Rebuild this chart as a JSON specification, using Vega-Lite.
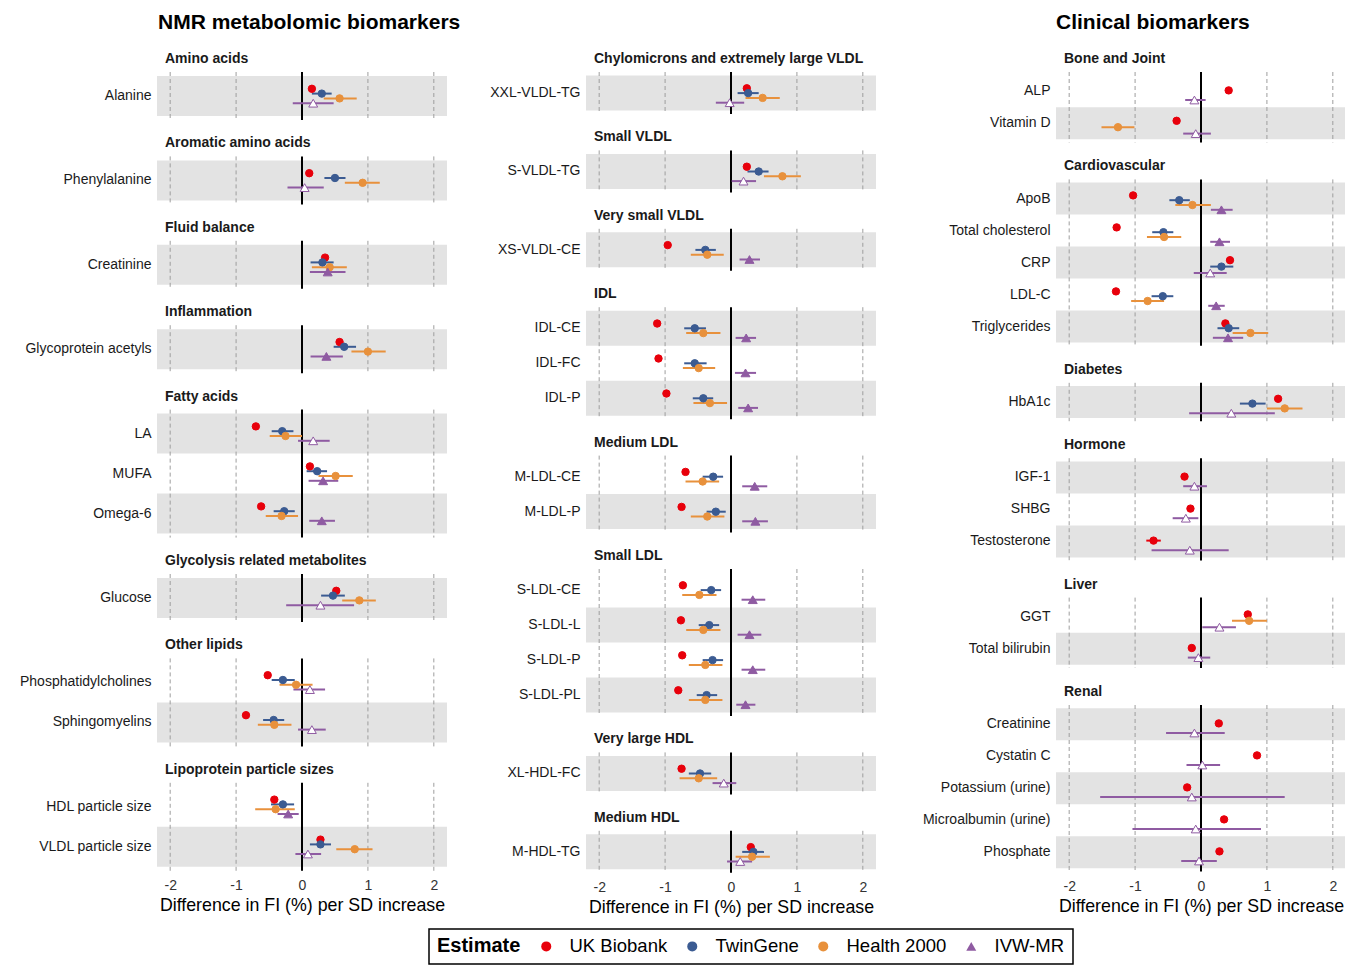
{
"$schema": "https://vega.github.io/schema/vega-lite/v6.json",
"background": "white",
"padding": {"left": 7, "top": 12, "right": 0, "bottom": 0},
"datasets": {
"grid": [{"v": -2}, {"v": -1}, {"v": 0}, {"v": 1}, {"v": 2}],
"fi": [
{"g":"Amino acids","m":"Alanine","e":"UK Biobank","b":0.15,"lo":0.12,"hi":0.18,"s":1},
{"g":"Amino acids","m":"Alanine","e":"TwinGene","b":0.30,"lo":0.15,"hi":0.45,"s":1},
{"g":"Amino acids","m":"Alanine","e":"Health 2000","b":0.57,"lo":0.33,"hi":0.83,"s":1},
{"g":"Amino acids","m":"Alanine","e":"IVW-MR","b":0.17,"lo":-0.14,"hi":0.48,"s":0},
{"g":"Aromatic amino acids","m":"Phenylalanine","e":"UK Biobank","b":0.11,"lo":0.08,"hi":0.14,"s":1},
{"g":"Aromatic amino acids","m":"Phenylalanine","e":"TwinGene","b":0.50,"lo":0.34,"hi":0.66,"s":1},
{"g":"Aromatic amino acids","m":"Phenylalanine","e":"Health 2000","b":0.92,"lo":0.65,"hi":1.18,"s":1},
{"g":"Aromatic amino acids","m":"Phenylalanine","e":"IVW-MR","b":0.04,"lo":-0.22,"hi":0.33,"s":0},
{"g":"Fluid balance","m":"Creatinine","e":"UK Biobank","b":0.35,"lo":0.32,"hi":0.38,"s":1},
{"g":"Fluid balance","m":"Creatinine","e":"TwinGene","b":0.31,"lo":0.13,"hi":0.48,"s":1},
{"g":"Fluid balance","m":"Creatinine","e":"Health 2000","b":0.42,"lo":0.15,"hi":0.68,"s":1},
{"g":"Fluid balance","m":"Creatinine","e":"IVW-MR","b":0.39,"lo":0.12,"hi":0.66,"s":1},
{"g":"Inflammation","m":"Glycoprotein acetyls","e":"UK Biobank","b":0.57,"lo":0.54,"hi":0.60,"s":1},
{"g":"Inflammation","m":"Glycoprotein acetyls","e":"TwinGene","b":0.64,"lo":0.48,"hi":0.82,"s":1},
{"g":"Inflammation","m":"Glycoprotein acetyls","e":"Health 2000","b":1.00,"lo":0.75,"hi":1.27,"s":1},
{"g":"Inflammation","m":"Glycoprotein acetyls","e":"IVW-MR","b":0.37,"lo":0.13,"hi":0.62,"s":1},
{"g":"Fatty acids","m":"LA","e":"UK Biobank","b":-0.70,"lo":-0.73,"hi":-0.67,"s":1},
{"g":"Fatty acids","m":"LA","e":"TwinGene","b":-0.30,"lo":-0.46,"hi":-0.13,"s":1},
{"g":"Fatty acids","m":"LA","e":"Health 2000","b":-0.25,"lo":-0.49,"hi":0.0,"s":1},
{"g":"Fatty acids","m":"LA","e":"IVW-MR","b":0.17,"lo":-0.06,"hi":0.42,"s":0},
{"g":"Fatty acids","m":"MUFA","e":"UK Biobank","b":0.12,"lo":0.09,"hi":0.15,"s":1},
{"g":"Fatty acids","m":"MUFA","e":"TwinGene","b":0.23,"lo":0.07,"hi":0.38,"s":1},
{"g":"Fatty acids","m":"MUFA","e":"Health 2000","b":0.51,"lo":0.25,"hi":0.77,"s":1},
{"g":"Fatty acids","m":"MUFA","e":"IVW-MR","b":0.32,"lo":0.10,"hi":0.55,"s":1},
{"g":"Fatty acids","m":"Omega-6","e":"UK Biobank","b":-0.62,"lo":-0.65,"hi":-0.59,"s":1},
{"g":"Fatty acids","m":"Omega-6","e":"TwinGene","b":-0.27,"lo":-0.43,"hi":-0.11,"s":1},
{"g":"Fatty acids","m":"Omega-6","e":"Health 2000","b":-0.31,"lo":-0.55,"hi":-0.06,"s":1},
{"g":"Fatty acids","m":"Omega-6","e":"IVW-MR","b":0.30,"lo":0.11,"hi":0.50,"s":1},
{"g":"Glycolysis related metabolites","m":"Glucose","e":"UK Biobank","b":0.52,"lo":0.49,"hi":0.55,"s":1},
{"g":"Glycolysis related metabolites","m":"Glucose","e":"TwinGene","b":0.47,"lo":0.29,"hi":0.65,"s":1},
{"g":"Glycolysis related metabolites","m":"Glucose","e":"Health 2000","b":0.87,"lo":0.61,"hi":1.12,"s":1},
{"g":"Glycolysis related metabolites","m":"Glucose","e":"IVW-MR","b":0.28,"lo":-0.24,"hi":0.79,"s":0},
{"g":"Other lipids","m":"Phosphatidylcholines","e":"UK Biobank","b":-0.52,"lo":-0.55,"hi":-0.49,"s":1},
{"g":"Other lipids","m":"Phosphatidylcholines","e":"TwinGene","b":-0.29,"lo":-0.46,"hi":-0.11,"s":1},
{"g":"Other lipids","m":"Phosphatidylcholines","e":"Health 2000","b":-0.09,"lo":-0.34,"hi":0.16,"s":1},
{"g":"Other lipids","m":"Phosphatidylcholines","e":"IVW-MR","b":0.12,"lo":-0.13,"hi":0.35,"s":0},
{"g":"Other lipids","m":"Sphingomyelins","e":"UK Biobank","b":-0.85,"lo":-0.88,"hi":-0.82,"s":1},
{"g":"Other lipids","m":"Sphingomyelins","e":"TwinGene","b":-0.43,"lo":-0.59,"hi":-0.27,"s":1},
{"g":"Other lipids","m":"Sphingomyelins","e":"Health 2000","b":-0.42,"lo":-0.67,"hi":-0.16,"s":1},
{"g":"Other lipids","m":"Sphingomyelins","e":"IVW-MR","b":0.15,"lo":-0.06,"hi":0.36,"s":0},
{"g":"Lipoprotein particle sizes","m":"HDL particle size","e":"UK Biobank","b":-0.42,"lo":-0.45,"hi":-0.39,"s":1},
{"g":"Lipoprotein particle sizes","m":"HDL particle size","e":"TwinGene","b":-0.29,"lo":-0.47,"hi":-0.12,"s":1},
{"g":"Lipoprotein particle sizes","m":"HDL particle size","e":"Health 2000","b":-0.40,"lo":-0.71,"hi":-0.11,"s":1},
{"g":"Lipoprotein particle sizes","m":"HDL particle size","e":"IVW-MR","b":-0.21,"lo":-0.37,"hi":-0.05,"s":1},
{"g":"Lipoprotein particle sizes","m":"VLDL particle size","e":"UK Biobank","b":0.28,"lo":0.25,"hi":0.31,"s":1},
{"g":"Lipoprotein particle sizes","m":"VLDL particle size","e":"TwinGene","b":0.28,"lo":0.12,"hi":0.44,"s":1},
{"g":"Lipoprotein particle sizes","m":"VLDL particle size","e":"Health 2000","b":0.80,"lo":0.52,"hi":1.07,"s":1},
{"g":"Lipoprotein particle sizes","m":"VLDL particle size","e":"IVW-MR","b":0.09,"lo":-0.10,"hi":0.29,"s":0},
{"g":"Chylomicrons and extremely large VLDL","m":"XXL-VLDL-TG","e":"UK Biobank","b":0.24,"lo":0.21,"hi":0.27,"s":1},
{"g":"Chylomicrons and extremely large VLDL","m":"XXL-VLDL-TG","e":"TwinGene","b":0.26,"lo":0.10,"hi":0.42,"s":1},
{"g":"Chylomicrons and extremely large VLDL","m":"XXL-VLDL-TG","e":"Health 2000","b":0.48,"lo":0.22,"hi":0.74,"s":1},
{"g":"Chylomicrons and extremely large VLDL","m":"XXL-VLDL-TG","e":"IVW-MR","b":-0.02,"lo":-0.23,"hi":0.20,"s":0},
{"g":"Small VLDL","m":"S-VLDL-TG","e":"UK Biobank","b":0.24,"lo":0.21,"hi":0.27,"s":1},
{"g":"Small VLDL","m":"S-VLDL-TG","e":"TwinGene","b":0.42,"lo":0.25,"hi":0.57,"s":1},
{"g":"Small VLDL","m":"S-VLDL-TG","e":"Health 2000","b":0.78,"lo":0.50,"hi":1.06,"s":1},
{"g":"Small VLDL","m":"S-VLDL-TG","e":"IVW-MR","b":0.19,"lo":0.01,"hi":0.38,"s":0},
{"g":"Very small VLDL","m":"XS-VLDL-CE","e":"UK Biobank","b":-0.96,"lo":-0.99,"hi":-0.93,"s":1},
{"g":"Very small VLDL","m":"XS-VLDL-CE","e":"TwinGene","b":-0.39,"lo":-0.54,"hi":-0.23,"s":1},
{"g":"Very small VLDL","m":"XS-VLDL-CE","e":"Health 2000","b":-0.36,"lo":-0.61,"hi":-0.11,"s":1},
{"g":"Very small VLDL","m":"XS-VLDL-CE","e":"IVW-MR","b":0.28,"lo":0.13,"hi":0.44,"s":1},
{"g":"IDL","m":"IDL-CE","e":"UK Biobank","b":-1.12,"lo":-1.15,"hi":-1.09,"s":1},
{"g":"IDL","m":"IDL-CE","e":"TwinGene","b":-0.55,"lo":-0.71,"hi":-0.38,"s":1},
{"g":"IDL","m":"IDL-CE","e":"Health 2000","b":-0.42,"lo":-0.68,"hi":-0.16,"s":1},
{"g":"IDL","m":"IDL-CE","e":"IVW-MR","b":0.23,"lo":0.07,"hi":0.38,"s":1},
{"g":"IDL","m":"IDL-FC","e":"UK Biobank","b":-1.10,"lo":-1.13,"hi":-1.07,"s":1},
{"g":"IDL","m":"IDL-FC","e":"TwinGene","b":-0.55,"lo":-0.71,"hi":-0.37,"s":1},
{"g":"IDL","m":"IDL-FC","e":"Health 2000","b":-0.49,"lo":-0.73,"hi":-0.24,"s":1},
{"g":"IDL","m":"IDL-FC","e":"IVW-MR","b":0.22,"lo":0.06,"hi":0.38,"s":1},
{"g":"IDL","m":"IDL-P","e":"UK Biobank","b":-0.98,"lo":-1.01,"hi":-0.95,"s":1},
{"g":"IDL","m":"IDL-P","e":"TwinGene","b":-0.42,"lo":-0.58,"hi":-0.27,"s":1},
{"g":"IDL","m":"IDL-P","e":"Health 2000","b":-0.32,"lo":-0.57,"hi":-0.06,"s":1},
{"g":"IDL","m":"IDL-P","e":"IVW-MR","b":0.26,"lo":0.11,"hi":0.41,"s":1},
{"g":"Medium LDL","m":"M-LDL-CE","e":"UK Biobank","b":-0.69,"lo":-0.72,"hi":-0.66,"s":1},
{"g":"Medium LDL","m":"M-LDL-CE","e":"TwinGene","b":-0.27,"lo":-0.43,"hi":-0.12,"s":1},
{"g":"Medium LDL","m":"M-LDL-CE","e":"Health 2000","b":-0.43,"lo":-0.69,"hi":-0.18,"s":1},
{"g":"Medium LDL","m":"M-LDL-CE","e":"IVW-MR","b":0.36,"lo":0.17,"hi":0.55,"s":1},
{"g":"Medium LDL","m":"M-LDL-P","e":"UK Biobank","b":-0.75,"lo":-0.78,"hi":-0.72,"s":1},
{"g":"Medium LDL","m":"M-LDL-P","e":"TwinGene","b":-0.23,"lo":-0.37,"hi":-0.08,"s":1},
{"g":"Medium LDL","m":"M-LDL-P","e":"Health 2000","b":-0.36,"lo":-0.61,"hi":-0.10,"s":1},
{"g":"Medium LDL","m":"M-LDL-P","e":"IVW-MR","b":0.37,"lo":0.17,"hi":0.56,"s":1},
{"g":"Small LDL","m":"S-LDL-CE","e":"UK Biobank","b":-0.73,"lo":-0.76,"hi":-0.70,"s":1},
{"g":"Small LDL","m":"S-LDL-CE","e":"TwinGene","b":-0.30,"lo":-0.46,"hi":-0.15,"s":1},
{"g":"Small LDL","m":"S-LDL-CE","e":"Health 2000","b":-0.48,"lo":-0.74,"hi":-0.22,"s":1},
{"g":"Small LDL","m":"S-LDL-CE","e":"IVW-MR","b":0.33,"lo":0.16,"hi":0.52,"s":1},
{"g":"Small LDL","m":"S-LDL-L","e":"UK Biobank","b":-0.76,"lo":-0.79,"hi":-0.73,"s":1},
{"g":"Small LDL","m":"S-LDL-L","e":"TwinGene","b":-0.33,"lo":-0.49,"hi":-0.18,"s":1},
{"g":"Small LDL","m":"S-LDL-L","e":"Health 2000","b":-0.42,"lo":-0.68,"hi":-0.16,"s":1},
{"g":"Small LDL","m":"S-LDL-L","e":"IVW-MR","b":0.28,"lo":0.10,"hi":0.46,"s":1},
{"g":"Small LDL","m":"S-LDL-P","e":"UK Biobank","b":-0.74,"lo":-0.77,"hi":-0.71,"s":1},
{"g":"Small LDL","m":"S-LDL-P","e":"TwinGene","b":-0.28,"lo":-0.43,"hi":-0.12,"s":1},
{"g":"Small LDL","m":"S-LDL-P","e":"Health 2000","b":-0.39,"lo":-0.64,"hi":-0.13,"s":1},
{"g":"Small LDL","m":"S-LDL-P","e":"IVW-MR","b":0.33,"lo":0.16,"hi":0.52,"s":1},
{"g":"Small LDL","m":"S-LDL-PL","e":"UK Biobank","b":-0.80,"lo":-0.83,"hi":-0.77,"s":1},
{"g":"Small LDL","m":"S-LDL-PL","e":"TwinGene","b":-0.37,"lo":-0.52,"hi":-0.21,"s":1},
{"g":"Small LDL","m":"S-LDL-PL","e":"Health 2000","b":-0.39,"lo":-0.64,"hi":-0.13,"s":1},
{"g":"Small LDL","m":"S-LDL-PL","e":"IVW-MR","b":0.22,"lo":0.08,"hi":0.37,"s":1},
{"g":"Very large HDL","m":"XL-HDL-FC","e":"UK Biobank","b":-0.75,"lo":-0.78,"hi":-0.72,"s":1},
{"g":"Very large HDL","m":"XL-HDL-FC","e":"TwinGene","b":-0.47,"lo":-0.64,"hi":-0.30,"s":1},
{"g":"Very large HDL","m":"XL-HDL-FC","e":"Health 2000","b":-0.49,"lo":-0.78,"hi":-0.21,"s":1},
{"g":"Very large HDL","m":"XL-HDL-FC","e":"IVW-MR","b":-0.11,"lo":-0.28,"hi":0.08,"s":0},
{"g":"Medium HDL","m":"M-HDL-TG","e":"UK Biobank","b":0.30,"lo":0.27,"hi":0.33,"s":1},
{"g":"Medium HDL","m":"M-HDL-TG","e":"TwinGene","b":0.34,"lo":0.17,"hi":0.50,"s":1},
{"g":"Medium HDL","m":"M-HDL-TG","e":"Health 2000","b":0.32,"lo":0.07,"hi":0.59,"s":1},
{"g":"Medium HDL","m":"M-HDL-TG","e":"IVW-MR","b":0.14,"lo":-0.06,"hi":0.32,"s":0},
{"g":"Bone and Joint","m":"ALP","e":"UK Biobank","b":0.42,"lo":0.39,"hi":0.45,"s":1},
{"g":"Bone and Joint","m":"ALP","e":"IVW-MR","b":-0.10,"lo":-0.24,"hi":0.07,"s":0},
{"g":"Bone and Joint","m":"Vitamin D","e":"UK Biobank","b":-0.37,"lo":-0.40,"hi":-0.34,"s":1},
{"g":"Bone and Joint","m":"Vitamin D","e":"Health 2000","b":-1.26,"lo":-1.51,"hi":-1.01,"s":1},
{"g":"Bone and Joint","m":"Vitamin D","e":"IVW-MR","b":-0.08,"lo":-0.27,"hi":0.15,"s":0},
{"g":"Cardiovascular","m":"ApoB","e":"UK Biobank","b":-1.03,"lo":-1.07,"hi":-0.99,"s":1},
{"g":"Cardiovascular","m":"ApoB","e":"TwinGene","b":-0.33,"lo":-0.48,"hi":-0.17,"s":1},
{"g":"Cardiovascular","m":"ApoB","e":"Health 2000","b":-0.13,"lo":-0.39,"hi":0.15,"s":1},
{"g":"Cardiovascular","m":"ApoB","e":"IVW-MR","b":0.31,"lo":0.15,"hi":0.48,"s":1},
{"g":"Cardiovascular","m":"Total cholesterol","e":"UK Biobank","b":-1.28,"lo":-1.31,"hi":-1.25,"s":1},
{"g":"Cardiovascular","m":"Total cholesterol","e":"TwinGene","b":-0.57,"lo":-0.74,"hi":-0.42,"s":1},
{"g":"Cardiovascular","m":"Total cholesterol","e":"Health 2000","b":-0.56,"lo":-0.82,"hi":-0.30,"s":1},
{"g":"Cardiovascular","m":"Total cholesterol","e":"IVW-MR","b":0.28,"lo":0.14,"hi":0.44,"s":1},
{"g":"Cardiovascular","m":"CRP","e":"UK Biobank","b":0.44,"lo":0.40,"hi":0.48,"s":1},
{"g":"Cardiovascular","m":"CRP","e":"TwinGene","b":0.31,"lo":0.14,"hi":0.49,"s":1},
{"g":"Cardiovascular","m":"CRP","e":"IVW-MR","b":0.14,"lo":-0.11,"hi":0.39,"s":0},
{"g":"Cardiovascular","m":"LDL-C","e":"UK Biobank","b":-1.29,"lo":-1.32,"hi":-1.26,"s":1},
{"g":"Cardiovascular","m":"LDL-C","e":"TwinGene","b":-0.58,"lo":-0.75,"hi":-0.42,"s":1},
{"g":"Cardiovascular","m":"LDL-C","e":"Health 2000","b":-0.81,"lo":-1.06,"hi":-0.56,"s":1},
{"g":"Cardiovascular","m":"LDL-C","e":"IVW-MR","b":0.23,"lo":0.11,"hi":0.36,"s":1},
{"g":"Cardiovascular","m":"Triglycerides","e":"UK Biobank","b":0.37,"lo":0.34,"hi":0.40,"s":1},
{"g":"Cardiovascular","m":"Triglycerides","e":"TwinGene","b":0.42,"lo":0.25,"hi":0.58,"s":1},
{"g":"Cardiovascular","m":"Triglycerides","e":"Health 2000","b":0.75,"lo":0.48,"hi":1.02,"s":1},
{"g":"Cardiovascular","m":"Triglycerides","e":"IVW-MR","b":0.41,"lo":0.18,"hi":0.64,"s":1},
{"g":"Diabetes","m":"HbA1c","e":"UK Biobank","b":1.17,"lo":1.14,"hi":1.20,"s":1},
{"g":"Diabetes","m":"HbA1c","e":"TwinGene","b":0.78,"lo":0.59,"hi":0.98,"s":1},
{"g":"Diabetes","m":"HbA1c","e":"Health 2000","b":1.27,"lo":1.00,"hi":1.54,"s":1},
{"g":"Diabetes","m":"HbA1c","e":"IVW-MR","b":0.46,"lo":-0.18,"hi":1.12,"s":0},
{"g":"Hormone","m":"IGF-1","e":"UK Biobank","b":-0.25,"lo":-0.28,"hi":-0.22,"s":1},
{"g":"Hormone","m":"IGF-1","e":"IVW-MR","b":-0.10,"lo":-0.27,"hi":0.09,"s":0},
{"g":"Hormone","m":"SHBG","e":"UK Biobank","b":-0.16,"lo":-0.20,"hi":-0.12,"s":1},
{"g":"Hormone","m":"SHBG","e":"IVW-MR","b":-0.23,"lo":-0.43,"hi":-0.04,"s":0},
{"g":"Hormone","m":"Testosterone","e":"UK Biobank","b":-0.72,"lo":-0.83,"hi":-0.61,"s":1},
{"g":"Hormone","m":"Testosterone","e":"IVW-MR","b":-0.17,"lo":-0.75,"hi":0.42,"s":0},
{"g":"Liver","m":"GGT","e":"UK Biobank","b":0.71,"lo":0.68,"hi":0.74,"s":1},
{"g":"Liver","m":"GGT","e":"Health 2000","b":0.73,"lo":0.47,"hi":1.00,"s":1},
{"g":"Liver","m":"GGT","e":"IVW-MR","b":0.28,"lo":0.02,"hi":0.53,"s":0},
{"g":"Liver","m":"Total bilirubin","e":"UK Biobank","b":-0.14,"lo":-0.17,"hi":-0.11,"s":1},
{"g":"Liver","m":"Total bilirubin","e":"IVW-MR","b":-0.04,"lo":-0.20,"hi":0.14,"s":0},
{"g":"Renal","m":"Creatinine","e":"UK Biobank","b":0.27,"lo":0.23,"hi":0.31,"s":1},
{"g":"Renal","m":"Creatinine","e":"IVW-MR","b":-0.10,"lo":-0.53,"hi":0.36,"s":0},
{"g":"Renal","m":"Cystatin C","e":"UK Biobank","b":0.85,"lo":0.82,"hi":0.88,"s":1},
{"g":"Renal","m":"Cystatin C","e":"IVW-MR","b":0.02,"lo":-0.22,"hi":0.29,"s":0},
{"g":"Renal","m":"Potassium (urine)","e":"UK Biobank","b":-0.21,"lo":-0.24,"hi":-0.18,"s":1},
{"g":"Renal","m":"Potassium (urine)","e":"IVW-MR","b":-0.14,"lo":-1.53,"hi":1.27,"s":0},
{"g":"Renal","m":"Microalbumin (urine)","e":"UK Biobank","b":0.35,"lo":0.32,"hi":0.38,"s":1},
{"g":"Renal","m":"Microalbumin (urine)","e":"IVW-MR","b":-0.08,"lo":-1.04,"hi":0.91,"s":0},
{"g":"Renal","m":"Phosphate","e":"UK Biobank","b":0.28,"lo":0.25,"hi":0.31,"s":1},
{"g":"Renal","m":"Phosphate","e":"IVW-MR","b":-0.03,"lo":-0.30,"hi":0.24,"s":0}
]
},
"data": {"name": "fi"},
"transform": [
{"calculate": "indexof(['UK Biobank','TwinGene','Health 2000','IVW-MR'], datum.e)", "as": "eo"},
{"window": [{"op": "row_number", "as": "idx"}], "groupby": ["g", "m"], "sort": [{"field": "eo", "order": "ascending"}]},
{"joinaggregate": [{"op": "count", "as": "n"}], "groupby": ["g", "m"]},
{"calculate": "(datum.idx - (datum.n + 1) / 2) * 0.48 / datum.n", "as": "off"}
],
"spacing": 12,
"hconcat": [
{
"title": {"text": "NMR metabolomic biomarkers", "fontSize": 21, "color": "black", "frame": "bounds", "dx": 151, "offset": 19},
"spacing": 9,
"hconcat": [
{"spacing": 15.4, "vconcat": [
{"title": "Amino acids", "width": 290, "height": 48, "transform": [{"filter": {"field": "g", "equal": "Amino acids"}}],
"encoding": {"y": {"field": "m", "type": "nominal", "title": null, "scale": {"domain": ["Alanine"], "paddingInner": 0, "paddingOuter": 0.1}, "axis": {"minExtent": 150}}},
"layer": [
{"transform": [{"filter": {"field": "e", "equal": "UK Biobank"}}, {"filter": {"field": "m", "oneOf": ["Alanine"]}}], "mark": {"type": "rule", "color": "#e3e3e3", "strokeWidth": 40, "strokeCap": "butt"}, "encoding": {"x": {"datum": -2.2, "axis": null}, "x2": {"datum": 2.2}}},
{"data": {"name": "grid"}, "mark": {"type": "rule"}, "encoding": {"x": {"field": "v", "type": "quantitative", "axis": null}, "y": {"value": 0}, "y2": {"value": "height"}, "color": {"condition": {"test": "datum.v == 0", "value": "black"}, "value": "#9e9e9e"}, "strokeWidth": {"condition": {"test": "datum.v == 0", "value": 2}, "value": 1}, "strokeDash": {"condition": {"test": "datum.v == 0", "value": [1, 0]}, "value": [4, 3]}}},
{"mark": {"type": "rule", "strokeWidth": 2}, "encoding": {"x": {"field": "lo", "type": "quantitative", "axis": null}, "x2": {"field": "hi"}, "yOffset": {"field": "off", "type": "quantitative", "scale": {"domain": [-0.5, 0.5], "nice": false, "zero": false}}, "stroke": {"field": "e", "type": "nominal", "scale": {"domain": ["IVW-MR", "UK Biobank", "TwinGene", "Health 2000"], "range": ["#8f5ba2", "#e8000b", "#3b5b92", "#e8913c"]}, "legend": null}}},
{"mark": {"type": "point", "filled": true, "opacity": 1, "strokeWidth": 1}, "encoding": {"x": {"field": "b", "type": "quantitative", "scale": {"domain": [-2.2, 2.2], "nice": false, "zero": false}, "axis": null}, "yOffset": {"field": "off", "type": "quantitative", "scale": {"domain": [-0.5, 0.5], "nice": false, "zero": false}}, "color": {"field": "e", "type": "nominal", "title": "Estimate", "scale": {"domain": ["UK Biobank", "TwinGene", "Health 2000", "IVW-MR"], "range": ["#e8000b", "#3b5b92", "#e8913c", "#8f5ba2"]}, "condition": {"test": "datum.s == 0", "value": "white"}}, "stroke": {"field": "e", "type": "nominal", "scale": {"domain": ["IVW-MR", "UK Biobank", "TwinGene", "Health 2000"], "range": ["#8f5ba2", "#e8000b", "#3b5b92", "#e8913c"]}, "legend": null}, "shape": {"field": "e", "type": "nominal", "title": "Estimate", "scale": {"domain": ["UK Biobank", "TwinGene", "Health 2000", "IVW-MR"], "range": ["circle", "circle", "circle", "triangle-up"]}}, "size": {"condition": {"test": "datum.e == 'IVW-MR'", "value": 80}, "value": 55}}}
]},
{"title": "Aromatic amino acids", "width": 290, "height": 48, "transform": [{"filter": {"field": "g", "equal": "Aromatic amino acids"}}],
"encoding": {"y": {"field": "m", "type": "nominal", "title": null, "scale": {"domain": ["Phenylalanine"], "paddingInner": 0, "paddingOuter": 0.1}, "axis": {"minExtent": 150}}},
"layer": [
{"transform": [{"filter": {"field": "e", "equal": "UK Biobank"}}, {"filter": {"field": "m", "oneOf": ["Phenylalanine"]}}], "mark": {"type": "rule", "color": "#e3e3e3", "strokeWidth": 40, "strokeCap": "butt"}, "encoding": {"x": {"datum": -2.2, "axis": null}, "x2": {"datum": 2.2}}},
{"data": {"name": "grid"}, "mark": {"type": "rule"}, "encoding": {"x": {"field": "v", "type": "quantitative", "axis": null}, "y": {"value": 0}, "y2": {"value": "height"}, "color": {"condition": {"test": "datum.v == 0", "value": "black"}, "value": "#9e9e9e"}, "strokeWidth": {"condition": {"test": "datum.v == 0", "value": 2}, "value": 1}, "strokeDash": {"condition": {"test": "datum.v == 0", "value": [1, 0]}, "value": [4, 3]}}},
{"mark": {"type": "rule", "strokeWidth": 2}, "encoding": {"x": {"field": "lo", "type": "quantitative", "axis": null}, "x2": {"field": "hi"}, "yOffset": {"field": "off", "type": "quantitative", "scale": {"domain": [-0.5, 0.5], "nice": false, "zero": false}}, "stroke": {"field": "e", "type": "nominal", "scale": {"domain": ["IVW-MR", "UK Biobank", "TwinGene", "Health 2000"], "range": ["#8f5ba2", "#e8000b", "#3b5b92", "#e8913c"]}, "legend": null}}},
{"mark": {"type": "point", "filled": true, "opacity": 1, "strokeWidth": 1}, "encoding": {"x": {"field": "b", "type": "quantitative", "scale": {"domain": [-2.2, 2.2], "nice": false, "zero": false}, "axis": null}, "yOffset": {"field": "off", "type": "quantitative", "scale": {"domain": [-0.5, 0.5], "nice": false, "zero": false}}, "color": {"field": "e", "type": "nominal", "title": "Estimate", "scale": {"domain": ["UK Biobank", "TwinGene", "Health 2000", "IVW-MR"], "range": ["#e8000b", "#3b5b92", "#e8913c", "#8f5ba2"]}, "condition": {"test": "datum.s == 0", "value": "white"}}, "stroke": {"field": "e", "type": "nominal", "scale": {"domain": ["IVW-MR", "UK Biobank", "TwinGene", "Health 2000"], "range": ["#8f5ba2", "#e8000b", "#3b5b92", "#e8913c"]}, "legend": null}, "shape": {"field": "e", "type": "nominal", "title": "Estimate", "scale": {"domain": ["UK Biobank", "TwinGene", "Health 2000", "IVW-MR"], "range": ["circle", "circle", "circle", "triangle-up"]}}, "size": {"condition": {"test": "datum.e == 'IVW-MR'", "value": 80}, "value": 55}}}
]},
{"title": "Fluid balance", "width": 290, "height": 48, "transform": [{"filter": {"field": "g", "equal": "Fluid balance"}}],
"encoding": {"y": {"field": "m", "type": "nominal", "title": null, "scale": {"domain": ["Creatinine"], "paddingInner": 0, "paddingOuter": 0.1}, "axis": {"minExtent": 150}}},
"layer": [
{"transform": [{"filter": {"field": "e", "equal": "UK Biobank"}}, {"filter": {"field": "m", "oneOf": ["Creatinine"]}}], "mark": {"type": "rule", "color": "#e3e3e3", "strokeWidth": 40, "strokeCap": "butt"}, "encoding": {"x": {"datum": -2.2, "axis": null}, "x2": {"datum": 2.2}}},
{"data": {"name": "grid"}, "mark": {"type": "rule"}, "encoding": {"x": {"field": "v", "type": "quantitative", "axis": null}, "y": {"value": 0}, "y2": {"value": "height"}, "color": {"condition": {"test": "datum.v == 0", "value": "black"}, "value": "#9e9e9e"}, "strokeWidth": {"condition": {"test": "datum.v == 0", "value": 2}, "value": 1}, "strokeDash": {"condition": {"test": "datum.v == 0", "value": [1, 0]}, "value": [4, 3]}}},
{"mark": {"type": "rule", "strokeWidth": 2}, "encoding": {"x": {"field": "lo", "type": "quantitative", "axis": null}, "x2": {"field": "hi"}, "yOffset": {"field": "off", "type": "quantitative", "scale": {"domain": [-0.5, 0.5], "nice": false, "zero": false}}, "stroke": {"field": "e", "type": "nominal", "scale": {"domain": ["IVW-MR", "UK Biobank", "TwinGene", "Health 2000"], "range": ["#8f5ba2", "#e8000b", "#3b5b92", "#e8913c"]}, "legend": null}}},
{"mark": {"type": "point", "filled": true, "opacity": 1, "strokeWidth": 1}, "encoding": {"x": {"field": "b", "type": "quantitative", "scale": {"domain": [-2.2, 2.2], "nice": false, "zero": false}, "axis": null}, "yOffset": {"field": "off", "type": "quantitative", "scale": {"domain": [-0.5, 0.5], "nice": false, "zero": false}}, "color": {"field": "e", "type": "nominal", "title": "Estimate", "scale": {"domain": ["UK Biobank", "TwinGene", "Health 2000", "IVW-MR"], "range": ["#e8000b", "#3b5b92", "#e8913c", "#8f5ba2"]}, "condition": {"test": "datum.s == 0", "value": "white"}}, "stroke": {"field": "e", "type": "nominal", "scale": {"domain": ["IVW-MR", "UK Biobank", "TwinGene", "Health 2000"], "range": ["#8f5ba2", "#e8000b", "#3b5b92", "#e8913c"]}, "legend": null}, "shape": {"field": "e", "type": "nominal", "title": "Estimate", "scale": {"domain": ["UK Biobank", "TwinGene", "Health 2000", "IVW-MR"], "range": ["circle", "circle", "circle", "triangle-up"]}}, "size": {"condition": {"test": "datum.e == 'IVW-MR'", "value": 80}, "value": 55}}}
]},
{"title": "Inflammation", "width": 290, "height": 48, "transform": [{"filter": {"field": "g", "equal": "Inflammation"}}],
"encoding": {"y": {"field": "m", "type": "nominal", "title": null, "scale": {"domain": ["Glycoprotein acetyls"], "paddingInner": 0, "paddingOuter": 0.1}, "axis": {"minExtent": 150}}},
"layer": [
{"transform": [{"filter": {"field": "e", "equal": "UK Biobank"}}, {"filter": {"field": "m", "oneOf": ["Glycoprotein acetyls"]}}], "mark": {"type": "rule", "color": "#e3e3e3", "strokeWidth": 40, "strokeCap": "butt"}, "encoding": {"x": {"datum": -2.2, "axis": null}, "x2": {"datum": 2.2}}},
{"data": {"name": "grid"}, "mark": {"type": "rule"}, "encoding": {"x": {"field": "v", "type": "quantitative", "axis": null}, "y": {"value": 0}, "y2": {"value": "height"}, "color": {"condition": {"test": "datum.v == 0", "value": "black"}, "value": "#9e9e9e"}, "strokeWidth": {"condition": {"test": "datum.v == 0", "value": 2}, "value": 1}, "strokeDash": {"condition": {"test": "datum.v == 0", "value": [1, 0]}, "value": [4, 3]}}},
{"mark": {"type": "rule", "strokeWidth": 2}, "encoding": {"x": {"field": "lo", "type": "quantitative", "axis": null}, "x2": {"field": "hi"}, "yOffset": {"field": "off", "type": "quantitative", "scale": {"domain": [-0.5, 0.5], "nice": false, "zero": false}}, "stroke": {"field": "e", "type": "nominal", "scale": {"domain": ["IVW-MR", "UK Biobank", "TwinGene", "Health 2000"], "range": ["#8f5ba2", "#e8000b", "#3b5b92", "#e8913c"]}, "legend": null}}},
{"mark": {"type": "point", "filled": true, "opacity": 1, "strokeWidth": 1}, "encoding": {"x": {"field": "b", "type": "quantitative", "scale": {"domain": [-2.2, 2.2], "nice": false, "zero": false}, "axis": null}, "yOffset": {"field": "off", "type": "quantitative", "scale": {"domain": [-0.5, 0.5], "nice": false, "zero": false}}, "color": {"field": "e", "type": "nominal", "title": "Estimate", "scale": {"domain": ["UK Biobank", "TwinGene", "Health 2000", "IVW-MR"], "range": ["#e8000b", "#3b5b92", "#e8913c", "#8f5ba2"]}, "condition": {"test": "datum.s == 0", "value": "white"}}, "stroke": {"field": "e", "type": "nominal", "scale": {"domain": ["IVW-MR", "UK Biobank", "TwinGene", "Health 2000"], "range": ["#8f5ba2", "#e8000b", "#3b5b92", "#e8913c"]}, "legend": null}, "shape": {"field": "e", "type": "nominal", "title": "Estimate", "scale": {"domain": ["UK Biobank", "TwinGene", "Health 2000", "IVW-MR"], "range": ["circle", "circle", "circle", "triangle-up"]}}, "size": {"condition": {"test": "datum.e == 'IVW-MR'", "value": 80}, "value": 55}}}
]},
{"title": "Fatty acids", "width": 290, "height": 128, "transform": [{"filter": {"field": "g", "equal": "Fatty acids"}}],
"encoding": {"y": {"field": "m", "type": "nominal", "title": null, "scale": {"domain": ["LA", "MUFA", "Omega-6"], "paddingInner": 0, "paddingOuter": 0.1}, "axis": {"minExtent": 150}}},
"layer": [
{"transform": [{"filter": {"field": "e", "equal": "UK Biobank"}}, {"filter": {"field": "m", "oneOf": ["LA", "Omega-6"]}}], "mark": {"type": "rule", "color": "#e3e3e3", "strokeWidth": 40, "strokeCap": "butt"}, "encoding": {"x": {"datum": -2.2, "axis": null}, "x2": {"datum": 2.2}}},
{"data": {"name": "grid"}, "mark": {"type": "rule"}, "encoding": {"x": {"field": "v", "type": "quantitative", "axis": null}, "y": {"value": 0}, "y2": {"value": "height"}, "color": {"condition": {"test": "datum.v == 0", "value": "black"}, "value": "#9e9e9e"}, "strokeWidth": {"condition": {"test": "datum.v == 0", "value": 2}, "value": 1}, "strokeDash": {"condition": {"test": "datum.v == 0", "value": [1, 0]}, "value": [4, 3]}}},
{"mark": {"type": "rule", "strokeWidth": 2}, "encoding": {"x": {"field": "lo", "type": "quantitative", "axis": null}, "x2": {"field": "hi"}, "yOffset": {"field": "off", "type": "quantitative", "scale": {"domain": [-0.5, 0.5], "nice": false, "zero": false}}, "stroke": {"field": "e", "type": "nominal", "scale": {"domain": ["IVW-MR", "UK Biobank", "TwinGene", "Health 2000"], "range": ["#8f5ba2", "#e8000b", "#3b5b92", "#e8913c"]}, "legend": null}}},
{"mark": {"type": "point", "filled": true, "opacity": 1, "strokeWidth": 1}, "encoding": {"x": {"field": "b", "type": "quantitative", "scale": {"domain": [-2.2, 2.2], "nice": false, "zero": false}, "axis": null}, "yOffset": {"field": "off", "type": "quantitative", "scale": {"domain": [-0.5, 0.5], "nice": false, "zero": false}}, "color": {"field": "e", "type": "nominal", "title": "Estimate", "scale": {"domain": ["UK Biobank", "TwinGene", "Health 2000", "IVW-MR"], "range": ["#e8000b", "#3b5b92", "#e8913c", "#8f5ba2"]}, "condition": {"test": "datum.s == 0", "value": "white"}}, "stroke": {"field": "e", "type": "nominal", "scale": {"domain": ["IVW-MR", "UK Biobank", "TwinGene", "Health 2000"], "range": ["#8f5ba2", "#e8000b", "#3b5b92", "#e8913c"]}, "legend": null}, "shape": {"field": "e", "type": "nominal", "title": "Estimate", "scale": {"domain": ["UK Biobank", "TwinGene", "Health 2000", "IVW-MR"], "range": ["circle", "circle", "circle", "triangle-up"]}}, "size": {"condition": {"test": "datum.e == 'IVW-MR'", "value": 80}, "value": 55}}}
]},
{"title": "Glycolysis related metabolites", "width": 290, "height": 48, "transform": [{"filter": {"field": "g", "equal": "Glycolysis related metabolites"}}],
"encoding": {"y": {"field": "m", "type": "nominal", "title": null, "scale": {"domain": ["Glucose"], "paddingInner": 0, "paddingOuter": 0.1}, "axis": {"minExtent": 150}}},
"layer": [
{"transform": [{"filter": {"field": "e", "equal": "UK Biobank"}}, {"filter": {"field": "m", "oneOf": ["Glucose"]}}], "mark": {"type": "rule", "color": "#e3e3e3", "strokeWidth": 40, "strokeCap": "butt"}, "encoding": {"x": {"datum": -2.2, "axis": null}, "x2": {"datum": 2.2}}},
{"data": {"name": "grid"}, "mark": {"type": "rule"}, "encoding": {"x": {"field": "v", "type": "quantitative", "axis": null}, "y": {"value": 0}, "y2": {"value": "height"}, "color": {"condition": {"test": "datum.v == 0", "value": "black"}, "value": "#9e9e9e"}, "strokeWidth": {"condition": {"test": "datum.v == 0", "value": 2}, "value": 1}, "strokeDash": {"condition": {"test": "datum.v == 0", "value": [1, 0]}, "value": [4, 3]}}},
{"mark": {"type": "rule", "strokeWidth": 2}, "encoding": {"x": {"field": "lo", "type": "quantitative", "axis": null}, "x2": {"field": "hi"}, "yOffset": {"field": "off", "type": "quantitative", "scale": {"domain": [-0.5, 0.5], "nice": false, "zero": false}}, "stroke": {"field": "e", "type": "nominal", "scale": {"domain": ["IVW-MR", "UK Biobank", "TwinGene", "Health 2000"], "range": ["#8f5ba2", "#e8000b", "#3b5b92", "#e8913c"]}, "legend": null}}},
{"mark": {"type": "point", "filled": true, "opacity": 1, "strokeWidth": 1}, "encoding": {"x": {"field": "b", "type": "quantitative", "scale": {"domain": [-2.2, 2.2], "nice": false, "zero": false}, "axis": null}, "yOffset": {"field": "off", "type": "quantitative", "scale": {"domain": [-0.5, 0.5], "nice": false, "zero": false}}, "color": {"field": "e", "type": "nominal", "title": "Estimate", "scale": {"domain": ["UK Biobank", "TwinGene", "Health 2000", "IVW-MR"], "range": ["#e8000b", "#3b5b92", "#e8913c", "#8f5ba2"]}, "condition": {"test": "datum.s == 0", "value": "white"}}, "stroke": {"field": "e", "type": "nominal", "scale": {"domain": ["IVW-MR", "UK Biobank", "TwinGene", "Health 2000"], "range": ["#8f5ba2", "#e8000b", "#3b5b92", "#e8913c"]}, "legend": null}, "shape": {"field": "e", "type": "nominal", "title": "Estimate", "scale": {"domain": ["UK Biobank", "TwinGene", "Health 2000", "IVW-MR"], "range": ["circle", "circle", "circle", "triangle-up"]}}, "size": {"condition": {"test": "datum.e == 'IVW-MR'", "value": 80}, "value": 55}}}
]},
{"title": "Other lipids", "width": 290, "height": 88, "transform": [{"filter": {"field": "g", "equal": "Other lipids"}}],
"encoding": {"y": {"field": "m", "type": "nominal", "title": null, "scale": {"domain": ["Phosphatidylcholines", "Sphingomyelins"], "paddingInner": 0, "paddingOuter": 0.1}, "axis": {"minExtent": 150}}},
"layer": [
{"transform": [{"filter": {"field": "e", "equal": "UK Biobank"}}, {"filter": {"field": "m", "oneOf": ["Sphingomyelins"]}}], "mark": {"type": "rule", "color": "#e3e3e3", "strokeWidth": 40, "strokeCap": "butt"}, "encoding": {"x": {"datum": -2.2, "axis": null}, "x2": {"datum": 2.2}}},
{"data": {"name": "grid"}, "mark": {"type": "rule"}, "encoding": {"x": {"field": "v", "type": "quantitative", "axis": null}, "y": {"value": 0}, "y2": {"value": "height"}, "color": {"condition": {"test": "datum.v == 0", "value": "black"}, "value": "#9e9e9e"}, "strokeWidth": {"condition": {"test": "datum.v == 0", "value": 2}, "value": 1}, "strokeDash": {"condition": {"test": "datum.v == 0", "value": [1, 0]}, "value": [4, 3]}}},
{"mark": {"type": "rule", "strokeWidth": 2}, "encoding": {"x": {"field": "lo", "type": "quantitative", "axis": null}, "x2": {"field": "hi"}, "yOffset": {"field": "off", "type": "quantitative", "scale": {"domain": [-0.5, 0.5], "nice": false, "zero": false}}, "stroke": {"field": "e", "type": "nominal", "scale": {"domain": ["IVW-MR", "UK Biobank", "TwinGene", "Health 2000"], "range": ["#8f5ba2", "#e8000b", "#3b5b92", "#e8913c"]}, "legend": null}}},
{"mark": {"type": "point", "filled": true, "opacity": 1, "strokeWidth": 1}, "encoding": {"x": {"field": "b", "type": "quantitative", "scale": {"domain": [-2.2, 2.2], "nice": false, "zero": false}, "axis": null}, "yOffset": {"field": "off", "type": "quantitative", "scale": {"domain": [-0.5, 0.5], "nice": false, "zero": false}}, "color": {"field": "e", "type": "nominal", "title": "Estimate", "scale": {"domain": ["UK Biobank", "TwinGene", "Health 2000", "IVW-MR"], "range": ["#e8000b", "#3b5b92", "#e8913c", "#8f5ba2"]}, "condition": {"test": "datum.s == 0", "value": "white"}}, "stroke": {"field": "e", "type": "nominal", "scale": {"domain": ["IVW-MR", "UK Biobank", "TwinGene", "Health 2000"], "range": ["#8f5ba2", "#e8000b", "#3b5b92", "#e8913c"]}, "legend": null}, "shape": {"field": "e", "type": "nominal", "title": "Estimate", "scale": {"domain": ["UK Biobank", "TwinGene", "Health 2000", "IVW-MR"], "range": ["circle", "circle", "circle", "triangle-up"]}}, "size": {"condition": {"test": "datum.e == 'IVW-MR'", "value": 80}, "value": 55}}}
]},
{"title": "Lipoprotein particle sizes", "width": 290, "height": 88, "transform": [{"filter": {"field": "g", "equal": "Lipoprotein particle sizes"}}],
"encoding": {"y": {"field": "m", "type": "nominal", "title": null, "scale": {"domain": ["HDL particle size", "VLDL particle size"], "paddingInner": 0, "paddingOuter": 0.1}, "axis": {"minExtent": 150}}},
"layer": [
{"transform": [{"filter": {"field": "e", "equal": "UK Biobank"}}, {"filter": {"field": "m", "oneOf": ["VLDL particle size"]}}], "mark": {"type": "rule", "color": "#e3e3e3", "strokeWidth": 40, "strokeCap": "butt"}, "encoding": {"x": {"datum": -2.2, "axis": {"values": [-2, -1, 0, 1, 2], "title": "Difference in FI (%) per SD increase", "labelExpr": "'' + datum.value"}}, "x2": {"datum": 2.2}}},
{"data": {"name": "grid"}, "mark": {"type": "rule"}, "encoding": {"x": {"field": "v", "type": "quantitative", "axis": {"values": [-2, -1, 0, 1, 2], "title": "Difference in FI (%) per SD increase", "labelExpr": "'' + datum.value"}}, "y": {"value": 0}, "y2": {"value": "height"}, "color": {"condition": {"test": "datum.v == 0", "value": "black"}, "value": "#9e9e9e"}, "strokeWidth": {"condition": {"test": "datum.v == 0", "value": 2}, "value": 1}, "strokeDash": {"condition": {"test": "datum.v == 0", "value": [1, 0]}, "value": [4, 3]}}},
{"mark": {"type": "rule", "strokeWidth": 2}, "encoding": {"x": {"field": "lo", "type": "quantitative", "axis": {"values": [-2, -1, 0, 1, 2], "title": "Difference in FI (%) per SD increase", "labelExpr": "'' + datum.value"}}, "x2": {"field": "hi"}, "yOffset": {"field": "off", "type": "quantitative", "scale": {"domain": [-0.5, 0.5], "nice": false, "zero": false}}, "stroke": {"field": "e", "type": "nominal", "scale": {"domain": ["IVW-MR", "UK Biobank", "TwinGene", "Health 2000"], "range": ["#8f5ba2", "#e8000b", "#3b5b92", "#e8913c"]}, "legend": null}}},
{"mark": {"type": "point", "filled": true, "opacity": 1, "strokeWidth": 1}, "encoding": {"x": {"field": "b", "type": "quantitative", "scale": {"domain": [-2.2, 2.2], "nice": false, "zero": false}, "axis": {"values": [-2, -1, 0, 1, 2], "title": "Difference in FI (%) per SD increase", "labelExpr": "'' + datum.value"}}, "yOffset": {"field": "off", "type": "quantitative", "scale": {"domain": [-0.5, 0.5], "nice": false, "zero": false}}, "color": {"field": "e", "type": "nominal", "title": "Estimate", "scale": {"domain": ["UK Biobank", "TwinGene", "Health 2000", "IVW-MR"], "range": ["#e8000b", "#3b5b92", "#e8913c", "#8f5ba2"]}, "condition": {"test": "datum.s == 0", "value": "white"}}, "stroke": {"field": "e", "type": "nominal", "scale": {"domain": ["IVW-MR", "UK Biobank", "TwinGene", "Health 2000"], "range": ["#8f5ba2", "#e8000b", "#3b5b92", "#e8913c"]}, "legend": null}, "shape": {"field": "e", "type": "nominal", "title": "Estimate", "scale": {"domain": ["UK Biobank", "TwinGene", "Health 2000", "IVW-MR"], "range": ["circle", "circle", "circle", "triangle-up"]}}, "size": {"condition": {"test": "datum.e == 'IVW-MR'", "value": 80}, "value": 55}}}
]}
]},
{"spacing": 15.4, "vconcat": [
{"title": "Chylomicrons and extremely large VLDL", "width": 290, "height": 42, "transform": [{"filter": {"field": "g", "equal": "Chylomicrons and extremely large VLDL"}}],
"encoding": {"y": {"field": "m", "type": "nominal", "title": null, "scale": {"domain": ["XXL-VLDL-TG"], "paddingInner": 0, "paddingOuter": 0.1}, "axis": {"minExtent": 110}}},
"layer": [
{"transform": [{"filter": {"field": "e", "equal": "UK Biobank"}}, {"filter": {"field": "m", "oneOf": ["XXL-VLDL-TG"]}}], "mark": {"type": "rule", "color": "#e3e3e3", "strokeWidth": 35, "strokeCap": "butt"}, "encoding": {"x": {"datum": -2.2, "axis": null}, "x2": {"datum": 2.2}}},
{"data": {"name": "grid"}, "mark": {"type": "rule"}, "encoding": {"x": {"field": "v", "type": "quantitative", "axis": null}, "y": {"value": 0}, "y2": {"value": "height"}, "color": {"condition": {"test": "datum.v == 0", "value": "black"}, "value": "#9e9e9e"}, "strokeWidth": {"condition": {"test": "datum.v == 0", "value": 2}, "value": 1}, "strokeDash": {"condition": {"test": "datum.v == 0", "value": [1, 0]}, "value": [4, 3]}}},
{"mark": {"type": "rule", "strokeWidth": 2}, "encoding": {"x": {"field": "lo", "type": "quantitative", "axis": null}, "x2": {"field": "hi"}, "yOffset": {"field": "off", "type": "quantitative", "scale": {"domain": [-0.5, 0.5], "nice": false, "zero": false}}, "stroke": {"field": "e", "type": "nominal", "scale": {"domain": ["IVW-MR", "UK Biobank", "TwinGene", "Health 2000"], "range": ["#8f5ba2", "#e8000b", "#3b5b92", "#e8913c"]}, "legend": null}}},
{"mark": {"type": "point", "filled": true, "opacity": 1, "strokeWidth": 1}, "encoding": {"x": {"field": "b", "type": "quantitative", "scale": {"domain": [-2.2, 2.2], "nice": false, "zero": false}, "axis": null}, "yOffset": {"field": "off", "type": "quantitative", "scale": {"domain": [-0.5, 0.5], "nice": false, "zero": false}}, "color": {"field": "e", "type": "nominal", "title": "Estimate", "scale": {"domain": ["UK Biobank", "TwinGene", "Health 2000", "IVW-MR"], "range": ["#e8000b", "#3b5b92", "#e8913c", "#8f5ba2"]}, "condition": {"test": "datum.s == 0", "value": "white"}}, "stroke": {"field": "e", "type": "nominal", "scale": {"domain": ["IVW-MR", "UK Biobank", "TwinGene", "Health 2000"], "range": ["#8f5ba2", "#e8000b", "#3b5b92", "#e8913c"]}, "legend": null}, "shape": {"field": "e", "type": "nominal", "title": "Estimate", "scale": {"domain": ["UK Biobank", "TwinGene", "Health 2000", "IVW-MR"], "range": ["circle", "circle", "circle", "triangle-up"]}}, "size": {"condition": {"test": "datum.e == 'IVW-MR'", "value": 80}, "value": 55}}}
]},
{"title": "Small VLDL", "width": 290, "height": 42, "transform": [{"filter": {"field": "g", "equal": "Small VLDL"}}],
"encoding": {"y": {"field": "m", "type": "nominal", "title": null, "scale": {"domain": ["S-VLDL-TG"], "paddingInner": 0, "paddingOuter": 0.1}, "axis": {"minExtent": 110}}},
"layer": [
{"transform": [{"filter": {"field": "e", "equal": "UK Biobank"}}, {"filter": {"field": "m", "oneOf": ["S-VLDL-TG"]}}], "mark": {"type": "rule", "color": "#e3e3e3", "strokeWidth": 35, "strokeCap": "butt"}, "encoding": {"x": {"datum": -2.2, "axis": null}, "x2": {"datum": 2.2}}},
{"data": {"name": "grid"}, "mark": {"type": "rule"}, "encoding": {"x": {"field": "v", "type": "quantitative", "axis": null}, "y": {"value": 0}, "y2": {"value": "height"}, "color": {"condition": {"test": "datum.v == 0", "value": "black"}, "value": "#9e9e9e"}, "strokeWidth": {"condition": {"test": "datum.v == 0", "value": 2}, "value": 1}, "strokeDash": {"condition": {"test": "datum.v == 0", "value": [1, 0]}, "value": [4, 3]}}},
{"mark": {"type": "rule", "strokeWidth": 2}, "encoding": {"x": {"field": "lo", "type": "quantitative", "axis": null}, "x2": {"field": "hi"}, "yOffset": {"field": "off", "type": "quantitative", "scale": {"domain": [-0.5, 0.5], "nice": false, "zero": false}}, "stroke": {"field": "e", "type": "nominal", "scale": {"domain": ["IVW-MR", "UK Biobank", "TwinGene", "Health 2000"], "range": ["#8f5ba2", "#e8000b", "#3b5b92", "#e8913c"]}, "legend": null}}},
{"mark": {"type": "point", "filled": true, "opacity": 1, "strokeWidth": 1}, "encoding": {"x": {"field": "b", "type": "quantitative", "scale": {"domain": [-2.2, 2.2], "nice": false, "zero": false}, "axis": null}, "yOffset": {"field": "off", "type": "quantitative", "scale": {"domain": [-0.5, 0.5], "nice": false, "zero": false}}, "color": {"field": "e", "type": "nominal", "title": "Estimate", "scale": {"domain": ["UK Biobank", "TwinGene", "Health 2000", "IVW-MR"], "range": ["#e8000b", "#3b5b92", "#e8913c", "#8f5ba2"]}, "condition": {"test": "datum.s == 0", "value": "white"}}, "stroke": {"field": "e", "type": "nominal", "scale": {"domain": ["IVW-MR", "UK Biobank", "TwinGene", "Health 2000"], "range": ["#8f5ba2", "#e8000b", "#3b5b92", "#e8913c"]}, "legend": null}, "shape": {"field": "e", "type": "nominal", "title": "Estimate", "scale": {"domain": ["UK Biobank", "TwinGene", "Health 2000", "IVW-MR"], "range": ["circle", "circle", "circle", "triangle-up"]}}, "size": {"condition": {"test": "datum.e == 'IVW-MR'", "value": 80}, "value": 55}}}
]},
{"title": "Very small VLDL", "width": 290, "height": 42, "transform": [{"filter": {"field": "g", "equal": "Very small VLDL"}}],
"encoding": {"y": {"field": "m", "type": "nominal", "title": null, "scale": {"domain": ["XS-VLDL-CE"], "paddingInner": 0, "paddingOuter": 0.1}, "axis": {"minExtent": 110}}},
"layer": [
{"transform": [{"filter": {"field": "e", "equal": "UK Biobank"}}, {"filter": {"field": "m", "oneOf": ["XS-VLDL-CE"]}}], "mark": {"type": "rule", "color": "#e3e3e3", "strokeWidth": 35, "strokeCap": "butt"}, "encoding": {"x": {"datum": -2.2, "axis": null}, "x2": {"datum": 2.2}}},
{"data": {"name": "grid"}, "mark": {"type": "rule"}, "encoding": {"x": {"field": "v", "type": "quantitative", "axis": null}, "y": {"value": 0}, "y2": {"value": "height"}, "color": {"condition": {"test": "datum.v == 0", "value": "black"}, "value": "#9e9e9e"}, "strokeWidth": {"condition": {"test": "datum.v == 0", "value": 2}, "value": 1}, "strokeDash": {"condition": {"test": "datum.v == 0", "value": [1, 0]}, "value": [4, 3]}}},
{"mark": {"type": "rule", "strokeWidth": 2}, "encoding": {"x": {"field": "lo", "type": "quantitative", "axis": null}, "x2": {"field": "hi"}, "yOffset": {"field": "off", "type": "quantitative", "scale": {"domain": [-0.5, 0.5], "nice": false, "zero": false}}, "stroke": {"field": "e", "type": "nominal", "scale": {"domain": ["IVW-MR", "UK Biobank", "TwinGene", "Health 2000"], "range": ["#8f5ba2", "#e8000b", "#3b5b92", "#e8913c"]}, "legend": null}}},
{"mark": {"type": "point", "filled": true, "opacity": 1, "strokeWidth": 1}, "encoding": {"x": {"field": "b", "type": "quantitative", "scale": {"domain": [-2.2, 2.2], "nice": false, "zero": false}, "axis": null}, "yOffset": {"field": "off", "type": "quantitative", "scale": {"domain": [-0.5, 0.5], "nice": false, "zero": false}}, "color": {"field": "e", "type": "nominal", "title": "Estimate", "scale": {"domain": ["UK Biobank", "TwinGene", "Health 2000", "IVW-MR"], "range": ["#e8000b", "#3b5b92", "#e8913c", "#8f5ba2"]}, "condition": {"test": "datum.s == 0", "value": "white"}}, "stroke": {"field": "e", "type": "nominal", "scale": {"domain": ["IVW-MR", "UK Biobank", "TwinGene", "Health 2000"], "range": ["#8f5ba2", "#e8000b", "#3b5b92", "#e8913c"]}, "legend": null}, "shape": {"field": "e", "type": "nominal", "title": "Estimate", "scale": {"domain": ["UK Biobank", "TwinGene", "Health 2000", "IVW-MR"], "range": ["circle", "circle", "circle", "triangle-up"]}}, "size": {"condition": {"test": "datum.e == 'IVW-MR'", "value": 80}, "value": 55}}}
]},
{"title": "IDL", "width": 290, "height": 112, "transform": [{"filter": {"field": "g", "equal": "IDL"}}],
"encoding": {"y": {"field": "m", "type": "nominal", "title": null, "scale": {"domain": ["IDL-CE", "IDL-FC", "IDL-P"], "paddingInner": 0, "paddingOuter": 0.1}, "axis": {"minExtent": 110}}},
"layer": [
{"transform": [{"filter": {"field": "e", "equal": "UK Biobank"}}, {"filter": {"field": "m", "oneOf": ["IDL-CE", "IDL-P"]}}], "mark": {"type": "rule", "color": "#e3e3e3", "strokeWidth": 35, "strokeCap": "butt"}, "encoding": {"x": {"datum": -2.2, "axis": null}, "x2": {"datum": 2.2}}},
{"data": {"name": "grid"}, "mark": {"type": "rule"}, "encoding": {"x": {"field": "v", "type": "quantitative", "axis": null}, "y": {"value": 0}, "y2": {"value": "height"}, "color": {"condition": {"test": "datum.v == 0", "value": "black"}, "value": "#9e9e9e"}, "strokeWidth": {"condition": {"test": "datum.v == 0", "value": 2}, "value": 1}, "strokeDash": {"condition": {"test": "datum.v == 0", "value": [1, 0]}, "value": [4, 3]}}},
{"mark": {"type": "rule", "strokeWidth": 2}, "encoding": {"x": {"field": "lo", "type": "quantitative", "axis": null}, "x2": {"field": "hi"}, "yOffset": {"field": "off", "type": "quantitative", "scale": {"domain": [-0.5, 0.5], "nice": false, "zero": false}}, "stroke": {"field": "e", "type": "nominal", "scale": {"domain": ["IVW-MR", "UK Biobank", "TwinGene", "Health 2000"], "range": ["#8f5ba2", "#e8000b", "#3b5b92", "#e8913c"]}, "legend": null}}},
{"mark": {"type": "point", "filled": true, "opacity": 1, "strokeWidth": 1}, "encoding": {"x": {"field": "b", "type": "quantitative", "scale": {"domain": [-2.2, 2.2], "nice": false, "zero": false}, "axis": null}, "yOffset": {"field": "off", "type": "quantitative", "scale": {"domain": [-0.5, 0.5], "nice": false, "zero": false}}, "color": {"field": "e", "type": "nominal", "title": "Estimate", "scale": {"domain": ["UK Biobank", "TwinGene", "Health 2000", "IVW-MR"], "range": ["#e8000b", "#3b5b92", "#e8913c", "#8f5ba2"]}, "condition": {"test": "datum.s == 0", "value": "white"}}, "stroke": {"field": "e", "type": "nominal", "scale": {"domain": ["IVW-MR", "UK Biobank", "TwinGene", "Health 2000"], "range": ["#8f5ba2", "#e8000b", "#3b5b92", "#e8913c"]}, "legend": null}, "shape": {"field": "e", "type": "nominal", "title": "Estimate", "scale": {"domain": ["UK Biobank", "TwinGene", "Health 2000", "IVW-MR"], "range": ["circle", "circle", "circle", "triangle-up"]}}, "size": {"condition": {"test": "datum.e == 'IVW-MR'", "value": 80}, "value": 55}}}
]},
{"title": "Medium LDL", "width": 290, "height": 77, "transform": [{"filter": {"field": "g", "equal": "Medium LDL"}}],
"encoding": {"y": {"field": "m", "type": "nominal", "title": null, "scale": {"domain": ["M-LDL-CE", "M-LDL-P"], "paddingInner": 0, "paddingOuter": 0.1}, "axis": {"minExtent": 110}}},
"layer": [
{"transform": [{"filter": {"field": "e", "equal": "UK Biobank"}}, {"filter": {"field": "m", "oneOf": ["M-LDL-P"]}}], "mark": {"type": "rule", "color": "#e3e3e3", "strokeWidth": 35, "strokeCap": "butt"}, "encoding": {"x": {"datum": -2.2, "axis": null}, "x2": {"datum": 2.2}}},
{"data": {"name": "grid"}, "mark": {"type": "rule"}, "encoding": {"x": {"field": "v", "type": "quantitative", "axis": null}, "y": {"value": 0}, "y2": {"value": "height"}, "color": {"condition": {"test": "datum.v == 0", "value": "black"}, "value": "#9e9e9e"}, "strokeWidth": {"condition": {"test": "datum.v == 0", "value": 2}, "value": 1}, "strokeDash": {"condition": {"test": "datum.v == 0", "value": [1, 0]}, "value": [4, 3]}}},
{"mark": {"type": "rule", "strokeWidth": 2}, "encoding": {"x": {"field": "lo", "type": "quantitative", "axis": null}, "x2": {"field": "hi"}, "yOffset": {"field": "off", "type": "quantitative", "scale": {"domain": [-0.5, 0.5], "nice": false, "zero": false}}, "stroke": {"field": "e", "type": "nominal", "scale": {"domain": ["IVW-MR", "UK Biobank", "TwinGene", "Health 2000"], "range": ["#8f5ba2", "#e8000b", "#3b5b92", "#e8913c"]}, "legend": null}}},
{"mark": {"type": "point", "filled": true, "opacity": 1, "strokeWidth": 1}, "encoding": {"x": {"field": "b", "type": "quantitative", "scale": {"domain": [-2.2, 2.2], "nice": false, "zero": false}, "axis": null}, "yOffset": {"field": "off", "type": "quantitative", "scale": {"domain": [-0.5, 0.5], "nice": false, "zero": false}}, "color": {"field": "e", "type": "nominal", "title": "Estimate", "scale": {"domain": ["UK Biobank", "TwinGene", "Health 2000", "IVW-MR"], "range": ["#e8000b", "#3b5b92", "#e8913c", "#8f5ba2"]}, "condition": {"test": "datum.s == 0", "value": "white"}}, "stroke": {"field": "e", "type": "nominal", "scale": {"domain": ["IVW-MR", "UK Biobank", "TwinGene", "Health 2000"], "range": ["#8f5ba2", "#e8000b", "#3b5b92", "#e8913c"]}, "legend": null}, "shape": {"field": "e", "type": "nominal", "title": "Estimate", "scale": {"domain": ["UK Biobank", "TwinGene", "Health 2000", "IVW-MR"], "range": ["circle", "circle", "circle", "triangle-up"]}}, "size": {"condition": {"test": "datum.e == 'IVW-MR'", "value": 80}, "value": 55}}}
]},
{"title": "Small LDL", "width": 290, "height": 147, "transform": [{"filter": {"field": "g", "equal": "Small LDL"}}],
"encoding": {"y": {"field": "m", "type": "nominal", "title": null, "scale": {"domain": ["S-LDL-CE", "S-LDL-L", "S-LDL-P", "S-LDL-PL"], "paddingInner": 0, "paddingOuter": 0.1}, "axis": {"minExtent": 110}}},
"layer": [
{"transform": [{"filter": {"field": "e", "equal": "UK Biobank"}}, {"filter": {"field": "m", "oneOf": ["S-LDL-L", "S-LDL-PL"]}}], "mark": {"type": "rule", "color": "#e3e3e3", "strokeWidth": 35, "strokeCap": "butt"}, "encoding": {"x": {"datum": -2.2, "axis": null}, "x2": {"datum": 2.2}}},
{"data": {"name": "grid"}, "mark": {"type": "rule"}, "encoding": {"x": {"field": "v", "type": "quantitative", "axis": null}, "y": {"value": 0}, "y2": {"value": "height"}, "color": {"condition": {"test": "datum.v == 0", "value": "black"}, "value": "#9e9e9e"}, "strokeWidth": {"condition": {"test": "datum.v == 0", "value": 2}, "value": 1}, "strokeDash": {"condition": {"test": "datum.v == 0", "value": [1, 0]}, "value": [4, 3]}}},
{"mark": {"type": "rule", "strokeWidth": 2}, "encoding": {"x": {"field": "lo", "type": "quantitative", "axis": null}, "x2": {"field": "hi"}, "yOffset": {"field": "off", "type": "quantitative", "scale": {"domain": [-0.5, 0.5], "nice": false, "zero": false}}, "stroke": {"field": "e", "type": "nominal", "scale": {"domain": ["IVW-MR", "UK Biobank", "TwinGene", "Health 2000"], "range": ["#8f5ba2", "#e8000b", "#3b5b92", "#e8913c"]}, "legend": null}}},
{"mark": {"type": "point", "filled": true, "opacity": 1, "strokeWidth": 1}, "encoding": {"x": {"field": "b", "type": "quantitative", "scale": {"domain": [-2.2, 2.2], "nice": false, "zero": false}, "axis": null}, "yOffset": {"field": "off", "type": "quantitative", "scale": {"domain": [-0.5, 0.5], "nice": false, "zero": false}}, "color": {"field": "e", "type": "nominal", "title": "Estimate", "scale": {"domain": ["UK Biobank", "TwinGene", "Health 2000", "IVW-MR"], "range": ["#e8000b", "#3b5b92", "#e8913c", "#8f5ba2"]}, "condition": {"test": "datum.s == 0", "value": "white"}}, "stroke": {"field": "e", "type": "nominal", "scale": {"domain": ["IVW-MR", "UK Biobank", "TwinGene", "Health 2000"], "range": ["#8f5ba2", "#e8000b", "#3b5b92", "#e8913c"]}, "legend": null}, "shape": {"field": "e", "type": "nominal", "title": "Estimate", "scale": {"domain": ["UK Biobank", "TwinGene", "Health 2000", "IVW-MR"], "range": ["circle", "circle", "circle", "triangle-up"]}}, "size": {"condition": {"test": "datum.e == 'IVW-MR'", "value": 80}, "value": 55}}}
]},
{"title": "Very large HDL", "width": 290, "height": 42, "transform": [{"filter": {"field": "g", "equal": "Very large HDL"}}],
"encoding": {"y": {"field": "m", "type": "nominal", "title": null, "scale": {"domain": ["XL-HDL-FC"], "paddingInner": 0, "paddingOuter": 0.1}, "axis": {"minExtent": 110}}},
"layer": [
{"transform": [{"filter": {"field": "e", "equal": "UK Biobank"}}, {"filter": {"field": "m", "oneOf": ["XL-HDL-FC"]}}], "mark": {"type": "rule", "color": "#e3e3e3", "strokeWidth": 35, "strokeCap": "butt"}, "encoding": {"x": {"datum": -2.2, "axis": null}, "x2": {"datum": 2.2}}},
{"data": {"name": "grid"}, "mark": {"type": "rule"}, "encoding": {"x": {"field": "v", "type": "quantitative", "axis": null}, "y": {"value": 0}, "y2": {"value": "height"}, "color": {"condition": {"test": "datum.v == 0", "value": "black"}, "value": "#9e9e9e"}, "strokeWidth": {"condition": {"test": "datum.v == 0", "value": 2}, "value": 1}, "strokeDash": {"condition": {"test": "datum.v == 0", "value": [1, 0]}, "value": [4, 3]}}},
{"mark": {"type": "rule", "strokeWidth": 2}, "encoding": {"x": {"field": "lo", "type": "quantitative", "axis": null}, "x2": {"field": "hi"}, "yOffset": {"field": "off", "type": "quantitative", "scale": {"domain": [-0.5, 0.5], "nice": false, "zero": false}}, "stroke": {"field": "e", "type": "nominal", "scale": {"domain": ["IVW-MR", "UK Biobank", "TwinGene", "Health 2000"], "range": ["#8f5ba2", "#e8000b", "#3b5b92", "#e8913c"]}, "legend": null}}},
{"mark": {"type": "point", "filled": true, "opacity": 1, "strokeWidth": 1}, "encoding": {"x": {"field": "b", "type": "quantitative", "scale": {"domain": [-2.2, 2.2], "nice": false, "zero": false}, "axis": null}, "yOffset": {"field": "off", "type": "quantitative", "scale": {"domain": [-0.5, 0.5], "nice": false, "zero": false}}, "color": {"field": "e", "type": "nominal", "title": "Estimate", "scale": {"domain": ["UK Biobank", "TwinGene", "Health 2000", "IVW-MR"], "range": ["#e8000b", "#3b5b92", "#e8913c", "#8f5ba2"]}, "condition": {"test": "datum.s == 0", "value": "white"}}, "stroke": {"field": "e", "type": "nominal", "scale": {"domain": ["IVW-MR", "UK Biobank", "TwinGene", "Health 2000"], "range": ["#8f5ba2", "#e8000b", "#3b5b92", "#e8913c"]}, "legend": null}, "shape": {"field": "e", "type": "nominal", "title": "Estimate", "scale": {"domain": ["UK Biobank", "TwinGene", "Health 2000", "IVW-MR"], "range": ["circle", "circle", "circle", "triangle-up"]}}, "size": {"condition": {"test": "datum.e == 'IVW-MR'", "value": 80}, "value": 55}}}
]},
{"title": "Medium HDL", "width": 290, "height": 42, "transform": [{"filter": {"field": "g", "equal": "Medium HDL"}}],
"encoding": {"y": {"field": "m", "type": "nominal", "title": null, "scale": {"domain": ["M-HDL-TG"], "paddingInner": 0, "paddingOuter": 0.1}, "axis": {"minExtent": 110}}},
"layer": [
{"transform": [{"filter": {"field": "e", "equal": "UK Biobank"}}, {"filter": {"field": "m", "oneOf": ["M-HDL-TG"]}}], "mark": {"type": "rule", "color": "#e3e3e3", "strokeWidth": 35, "strokeCap": "butt"}, "encoding": {"x": {"datum": -2.2, "axis": {"values": [-2, -1, 0, 1, 2], "title": "Difference in FI (%) per SD increase", "labelExpr": "'' + datum.value"}}, "x2": {"datum": 2.2}}},
{"data": {"name": "grid"}, "mark": {"type": "rule"}, "encoding": {"x": {"field": "v", "type": "quantitative", "axis": {"values": [-2, -1, 0, 1, 2], "title": "Difference in FI (%) per SD increase", "labelExpr": "'' + datum.value"}}, "y": {"value": 0}, "y2": {"value": "height"}, "color": {"condition": {"test": "datum.v == 0", "value": "black"}, "value": "#9e9e9e"}, "strokeWidth": {"condition": {"test": "datum.v == 0", "value": 2}, "value": 1}, "strokeDash": {"condition": {"test": "datum.v == 0", "value": [1, 0]}, "value": [4, 3]}}},
{"mark": {"type": "rule", "strokeWidth": 2}, "encoding": {"x": {"field": "lo", "type": "quantitative", "axis": {"values": [-2, -1, 0, 1, 2], "title": "Difference in FI (%) per SD increase", "labelExpr": "'' + datum.value"}}, "x2": {"field": "hi"}, "yOffset": {"field": "off", "type": "quantitative", "scale": {"domain": [-0.5, 0.5], "nice": false, "zero": false}}, "stroke": {"field": "e", "type": "nominal", "scale": {"domain": ["IVW-MR", "UK Biobank", "TwinGene", "Health 2000"], "range": ["#8f5ba2", "#e8000b", "#3b5b92", "#e8913c"]}, "legend": null}}},
{"mark": {"type": "point", "filled": true, "opacity": 1, "strokeWidth": 1}, "encoding": {"x": {"field": "b", "type": "quantitative", "scale": {"domain": [-2.2, 2.2], "nice": false, "zero": false}, "axis": {"values": [-2, -1, 0, 1, 2], "title": "Difference in FI (%) per SD increase", "labelExpr": "'' + datum.value"}}, "yOffset": {"field": "off", "type": "quantitative", "scale": {"domain": [-0.5, 0.5], "nice": false, "zero": false}}, "color": {"field": "e", "type": "nominal", "title": "Estimate", "scale": {"domain": ["UK Biobank", "TwinGene", "Health 2000", "IVW-MR"], "range": ["#e8000b", "#3b5b92", "#e8913c", "#8f5ba2"]}, "condition": {"test": "datum.s == 0", "value": "white"}}, "stroke": {"field": "e", "type": "nominal", "scale": {"domain": ["IVW-MR", "UK Biobank", "TwinGene", "Health 2000"], "range": ["#8f5ba2", "#e8000b", "#3b5b92", "#e8913c"]}, "legend": null}, "shape": {"field": "e", "type": "nominal", "title": "Estimate", "scale": {"domain": ["UK Biobank", "TwinGene", "Health 2000", "IVW-MR"], "range": ["circle", "circle", "circle", "triangle-up"]}}, "size": {"condition": {"test": "datum.e == 'IVW-MR'", "value": 80}, "value": 55}}}
]}
]}
]
},
{
"title": {"text": "Clinical biomarkers", "fontSize": 21, "color": "black", "frame": "bounds", "dx": 150, "offset": 19},
"spacing": 15.4,
"vconcat": [
{"title": "Bone and Joint", "width": 290, "height": 70.4, "transform": [{"filter": {"field": "g", "equal": "Bone and Joint"}}],
"encoding": {"y": {"field": "m", "type": "nominal", "title": null, "scale": {"domain": ["ALP", "Vitamin D"], "paddingInner": 0, "paddingOuter": 0.1}, "axis": {"minExtent": 150}}},
"layer": [
{"transform": [{"filter": {"field": "e", "equal": "UK Biobank"}}, {"filter": {"field": "m", "oneOf": ["Vitamin D"]}}], "mark": {"type": "rule", "color": "#e3e3e3", "strokeWidth": 32, "strokeCap": "butt"}, "encoding": {"x": {"datum": -2.2, "axis": null}, "x2": {"datum": 2.2}}},
{"data": {"name": "grid"}, "mark": {"type": "rule"}, "encoding": {"x": {"field": "v", "type": "quantitative", "axis": null}, "y": {"value": 0}, "y2": {"value": "height"}, "color": {"condition": {"test": "datum.v == 0", "value": "black"}, "value": "#9e9e9e"}, "strokeWidth": {"condition": {"test": "datum.v == 0", "value": 2}, "value": 1}, "strokeDash": {"condition": {"test": "datum.v == 0", "value": [1, 0]}, "value": [4, 3]}}},
{"mark": {"type": "rule", "strokeWidth": 2}, "encoding": {"x": {"field": "lo", "type": "quantitative", "axis": null}, "x2": {"field": "hi"}, "yOffset": {"field": "off", "type": "quantitative", "scale": {"domain": [-0.5, 0.5], "nice": false, "zero": false}}, "stroke": {"field": "e", "type": "nominal", "scale": {"domain": ["IVW-MR", "UK Biobank", "TwinGene", "Health 2000"], "range": ["#8f5ba2", "#e8000b", "#3b5b92", "#e8913c"]}, "legend": null}}},
{"mark": {"type": "point", "filled": true, "opacity": 1, "strokeWidth": 1}, "encoding": {"x": {"field": "b", "type": "quantitative", "scale": {"domain": [-2.2, 2.2], "nice": false, "zero": false}, "axis": null}, "yOffset": {"field": "off", "type": "quantitative", "scale": {"domain": [-0.5, 0.5], "nice": false, "zero": false}}, "color": {"field": "e", "type": "nominal", "title": "Estimate", "scale": {"domain": ["UK Biobank", "TwinGene", "Health 2000", "IVW-MR"], "range": ["#e8000b", "#3b5b92", "#e8913c", "#8f5ba2"]}, "condition": {"test": "datum.s == 0", "value": "white"}}, "stroke": {"field": "e", "type": "nominal", "scale": {"domain": ["IVW-MR", "UK Biobank", "TwinGene", "Health 2000"], "range": ["#8f5ba2", "#e8000b", "#3b5b92", "#e8913c"]}, "legend": null}, "shape": {"field": "e", "type": "nominal", "title": "Estimate", "scale": {"domain": ["UK Biobank", "TwinGene", "Health 2000", "IVW-MR"], "range": ["circle", "circle", "circle", "triangle-up"]}}, "size": {"condition": {"test": "datum.e == 'IVW-MR'", "value": 80}, "value": 55}}}
]},
{"title": "Cardiovascular", "width": 290, "height": 166.4, "transform": [{"filter": {"field": "g", "equal": "Cardiovascular"}}],
"encoding": {"y": {"field": "m", "type": "nominal", "title": null, "scale": {"domain": ["ApoB", "Total cholesterol", "CRP", "LDL-C", "Triglycerides"], "paddingInner": 0, "paddingOuter": 0.1}, "axis": {"minExtent": 150}}},
"layer": [
{"transform": [{"filter": {"field": "e", "equal": "UK Biobank"}}, {"filter": {"field": "m", "oneOf": ["ApoB", "CRP", "Triglycerides"]}}], "mark": {"type": "rule", "color": "#e3e3e3", "strokeWidth": 32, "strokeCap": "butt"}, "encoding": {"x": {"datum": -2.2, "axis": null}, "x2": {"datum": 2.2}}},
{"data": {"name": "grid"}, "mark": {"type": "rule"}, "encoding": {"x": {"field": "v", "type": "quantitative", "axis": null}, "y": {"value": 0}, "y2": {"value": "height"}, "color": {"condition": {"test": "datum.v == 0", "value": "black"}, "value": "#9e9e9e"}, "strokeWidth": {"condition": {"test": "datum.v == 0", "value": 2}, "value": 1}, "strokeDash": {"condition": {"test": "datum.v == 0", "value": [1, 0]}, "value": [4, 3]}}},
{"mark": {"type": "rule", "strokeWidth": 2}, "encoding": {"x": {"field": "lo", "type": "quantitative", "axis": null}, "x2": {"field": "hi"}, "yOffset": {"field": "off", "type": "quantitative", "scale": {"domain": [-0.5, 0.5], "nice": false, "zero": false}}, "stroke": {"field": "e", "type": "nominal", "scale": {"domain": ["IVW-MR", "UK Biobank", "TwinGene", "Health 2000"], "range": ["#8f5ba2", "#e8000b", "#3b5b92", "#e8913c"]}, "legend": null}}},
{"mark": {"type": "point", "filled": true, "opacity": 1, "strokeWidth": 1}, "encoding": {"x": {"field": "b", "type": "quantitative", "scale": {"domain": [-2.2, 2.2], "nice": false, "zero": false}, "axis": null}, "yOffset": {"field": "off", "type": "quantitative", "scale": {"domain": [-0.5, 0.5], "nice": false, "zero": false}}, "color": {"field": "e", "type": "nominal", "title": "Estimate", "scale": {"domain": ["UK Biobank", "TwinGene", "Health 2000", "IVW-MR"], "range": ["#e8000b", "#3b5b92", "#e8913c", "#8f5ba2"]}, "condition": {"test": "datum.s == 0", "value": "white"}}, "stroke": {"field": "e", "type": "nominal", "scale": {"domain": ["IVW-MR", "UK Biobank", "TwinGene", "Health 2000"], "range": ["#8f5ba2", "#e8000b", "#3b5b92", "#e8913c"]}, "legend": null}, "shape": {"field": "e", "type": "nominal", "title": "Estimate", "scale": {"domain": ["UK Biobank", "TwinGene", "Health 2000", "IVW-MR"], "range": ["circle", "circle", "circle", "triangle-up"]}}, "size": {"condition": {"test": "datum.e == 'IVW-MR'", "value": 80}, "value": 55}}}
]},
{"title": "Diabetes", "width": 290, "height": 38.4, "transform": [{"filter": {"field": "g", "equal": "Diabetes"}}],
"encoding": {"y": {"field": "m", "type": "nominal", "title": null, "scale": {"domain": ["HbA1c"], "paddingInner": 0, "paddingOuter": 0.1}, "axis": {"minExtent": 150}}},
"layer": [
{"transform": [{"filter": {"field": "e", "equal": "UK Biobank"}}, {"filter": {"field": "m", "oneOf": ["HbA1c"]}}], "mark": {"type": "rule", "color": "#e3e3e3", "strokeWidth": 32, "strokeCap": "butt"}, "encoding": {"x": {"datum": -2.2, "axis": null}, "x2": {"datum": 2.2}}},
{"data": {"name": "grid"}, "mark": {"type": "rule"}, "encoding": {"x": {"field": "v", "type": "quantitative", "axis": null}, "y": {"value": 0}, "y2": {"value": "height"}, "color": {"condition": {"test": "datum.v == 0", "value": "black"}, "value": "#9e9e9e"}, "strokeWidth": {"condition": {"test": "datum.v == 0", "value": 2}, "value": 1}, "strokeDash": {"condition": {"test": "datum.v == 0", "value": [1, 0]}, "value": [4, 3]}}},
{"mark": {"type": "rule", "strokeWidth": 2}, "encoding": {"x": {"field": "lo", "type": "quantitative", "axis": null}, "x2": {"field": "hi"}, "yOffset": {"field": "off", "type": "quantitative", "scale": {"domain": [-0.5, 0.5], "nice": false, "zero": false}}, "stroke": {"field": "e", "type": "nominal", "scale": {"domain": ["IVW-MR", "UK Biobank", "TwinGene", "Health 2000"], "range": ["#8f5ba2", "#e8000b", "#3b5b92", "#e8913c"]}, "legend": null}}},
{"mark": {"type": "point", "filled": true, "opacity": 1, "strokeWidth": 1}, "encoding": {"x": {"field": "b", "type": "quantitative", "scale": {"domain": [-2.2, 2.2], "nice": false, "zero": false}, "axis": null}, "yOffset": {"field": "off", "type": "quantitative", "scale": {"domain": [-0.5, 0.5], "nice": false, "zero": false}}, "color": {"field": "e", "type": "nominal", "title": "Estimate", "scale": {"domain": ["UK Biobank", "TwinGene", "Health 2000", "IVW-MR"], "range": ["#e8000b", "#3b5b92", "#e8913c", "#8f5ba2"]}, "condition": {"test": "datum.s == 0", "value": "white"}}, "stroke": {"field": "e", "type": "nominal", "scale": {"domain": ["IVW-MR", "UK Biobank", "TwinGene", "Health 2000"], "range": ["#8f5ba2", "#e8000b", "#3b5b92", "#e8913c"]}, "legend": null}, "shape": {"field": "e", "type": "nominal", "title": "Estimate", "scale": {"domain": ["UK Biobank", "TwinGene", "Health 2000", "IVW-MR"], "range": ["circle", "circle", "circle", "triangle-up"]}}, "size": {"condition": {"test": "datum.e == 'IVW-MR'", "value": 80}, "value": 55}}}
]},
{"title": "Hormone", "width": 290, "height": 102.4, "transform": [{"filter": {"field": "g", "equal": "Hormone"}}],
"encoding": {"y": {"field": "m", "type": "nominal", "title": null, "scale": {"domain": ["IGF-1", "SHBG", "Testosterone"], "paddingInner": 0, "paddingOuter": 0.1}, "axis": {"minExtent": 150}}},
"layer": [
{"transform": [{"filter": {"field": "e", "equal": "UK Biobank"}}, {"filter": {"field": "m", "oneOf": ["IGF-1", "Testosterone"]}}], "mark": {"type": "rule", "color": "#e3e3e3", "strokeWidth": 32, "strokeCap": "butt"}, "encoding": {"x": {"datum": -2.2, "axis": null}, "x2": {"datum": 2.2}}},
{"data": {"name": "grid"}, "mark": {"type": "rule"}, "encoding": {"x": {"field": "v", "type": "quantitative", "axis": null}, "y": {"value": 0}, "y2": {"value": "height"}, "color": {"condition": {"test": "datum.v == 0", "value": "black"}, "value": "#9e9e9e"}, "strokeWidth": {"condition": {"test": "datum.v == 0", "value": 2}, "value": 1}, "strokeDash": {"condition": {"test": "datum.v == 0", "value": [1, 0]}, "value": [4, 3]}}},
{"mark": {"type": "rule", "strokeWidth": 2}, "encoding": {"x": {"field": "lo", "type": "quantitative", "axis": null}, "x2": {"field": "hi"}, "yOffset": {"field": "off", "type": "quantitative", "scale": {"domain": [-0.5, 0.5], "nice": false, "zero": false}}, "stroke": {"field": "e", "type": "nominal", "scale": {"domain": ["IVW-MR", "UK Biobank", "TwinGene", "Health 2000"], "range": ["#8f5ba2", "#e8000b", "#3b5b92", "#e8913c"]}, "legend": null}}},
{"mark": {"type": "point", "filled": true, "opacity": 1, "strokeWidth": 1}, "encoding": {"x": {"field": "b", "type": "quantitative", "scale": {"domain": [-2.2, 2.2], "nice": false, "zero": false}, "axis": null}, "yOffset": {"field": "off", "type": "quantitative", "scale": {"domain": [-0.5, 0.5], "nice": false, "zero": false}}, "color": {"field": "e", "type": "nominal", "title": "Estimate", "scale": {"domain": ["UK Biobank", "TwinGene", "Health 2000", "IVW-MR"], "range": ["#e8000b", "#3b5b92", "#e8913c", "#8f5ba2"]}, "condition": {"test": "datum.s == 0", "value": "white"}}, "stroke": {"field": "e", "type": "nominal", "scale": {"domain": ["IVW-MR", "UK Biobank", "TwinGene", "Health 2000"], "range": ["#8f5ba2", "#e8000b", "#3b5b92", "#e8913c"]}, "legend": null}, "shape": {"field": "e", "type": "nominal", "title": "Estimate", "scale": {"domain": ["UK Biobank", "TwinGene", "Health 2000", "IVW-MR"], "range": ["circle", "circle", "circle", "triangle-up"]}}, "size": {"condition": {"test": "datum.e == 'IVW-MR'", "value": 80}, "value": 55}}}
]},
{"title": "Liver", "width": 290, "height": 70.4, "transform": [{"filter": {"field": "g", "equal": "Liver"}}],
"encoding": {"y": {"field": "m", "type": "nominal", "title": null, "scale": {"domain": ["GGT", "Total bilirubin"], "paddingInner": 0, "paddingOuter": 0.1}, "axis": {"minExtent": 150}}},
"layer": [
{"transform": [{"filter": {"field": "e", "equal": "UK Biobank"}}, {"filter": {"field": "m", "oneOf": ["Total bilirubin"]}}], "mark": {"type": "rule", "color": "#e3e3e3", "strokeWidth": 32, "strokeCap": "butt"}, "encoding": {"x": {"datum": -2.2, "axis": null}, "x2": {"datum": 2.2}}},
{"data": {"name": "grid"}, "mark": {"type": "rule"}, "encoding": {"x": {"field": "v", "type": "quantitative", "axis": null}, "y": {"value": 0}, "y2": {"value": "height"}, "color": {"condition": {"test": "datum.v == 0", "value": "black"}, "value": "#9e9e9e"}, "strokeWidth": {"condition": {"test": "datum.v == 0", "value": 2}, "value": 1}, "strokeDash": {"condition": {"test": "datum.v == 0", "value": [1, 0]}, "value": [4, 3]}}},
{"mark": {"type": "rule", "strokeWidth": 2}, "encoding": {"x": {"field": "lo", "type": "quantitative", "axis": null}, "x2": {"field": "hi"}, "yOffset": {"field": "off", "type": "quantitative", "scale": {"domain": [-0.5, 0.5], "nice": false, "zero": false}}, "stroke": {"field": "e", "type": "nominal", "scale": {"domain": ["IVW-MR", "UK Biobank", "TwinGene", "Health 2000"], "range": ["#8f5ba2", "#e8000b", "#3b5b92", "#e8913c"]}, "legend": null}}},
{"mark": {"type": "point", "filled": true, "opacity": 1, "strokeWidth": 1}, "encoding": {"x": {"field": "b", "type": "quantitative", "scale": {"domain": [-2.2, 2.2], "nice": false, "zero": false}, "axis": null}, "yOffset": {"field": "off", "type": "quantitative", "scale": {"domain": [-0.5, 0.5], "nice": false, "zero": false}}, "color": {"field": "e", "type": "nominal", "title": "Estimate", "scale": {"domain": ["UK Biobank", "TwinGene", "Health 2000", "IVW-MR"], "range": ["#e8000b", "#3b5b92", "#e8913c", "#8f5ba2"]}, "condition": {"test": "datum.s == 0", "value": "white"}}, "stroke": {"field": "e", "type": "nominal", "scale": {"domain": ["IVW-MR", "UK Biobank", "TwinGene", "Health 2000"], "range": ["#8f5ba2", "#e8000b", "#3b5b92", "#e8913c"]}, "legend": null}, "shape": {"field": "e", "type": "nominal", "title": "Estimate", "scale": {"domain": ["UK Biobank", "TwinGene", "Health 2000", "IVW-MR"], "range": ["circle", "circle", "circle", "triangle-up"]}}, "size": {"condition": {"test": "datum.e == 'IVW-MR'", "value": 80}, "value": 55}}}
]},
{"title": "Renal", "width": 290, "height": 166.4, "transform": [{"filter": {"field": "g", "equal": "Renal"}}],
"encoding": {"y": {"field": "m", "type": "nominal", "title": null, "scale": {"domain": ["Creatinine", "Cystatin C", "Potassium (urine)", "Microalbumin (urine)", "Phosphate"], "paddingInner": 0, "paddingOuter": 0.1}, "axis": {"minExtent": 150}}},
"layer": [
{"transform": [{"filter": {"field": "e", "equal": "UK Biobank"}}, {"filter": {"field": "m", "oneOf": ["Creatinine", "Potassium (urine)", "Phosphate"]}}], "mark": {"type": "rule", "color": "#e3e3e3", "strokeWidth": 32, "strokeCap": "butt"}, "encoding": {"x": {"datum": -2.2, "axis": {"values": [-2, -1, 0, 1, 2], "title": "Difference in FI (%) per SD increase", "labelExpr": "'' + datum.value"}}, "x2": {"datum": 2.2}}},
{"data": {"name": "grid"}, "mark": {"type": "rule"}, "encoding": {"x": {"field": "v", "type": "quantitative", "axis": {"values": [-2, -1, 0, 1, 2], "title": "Difference in FI (%) per SD increase", "labelExpr": "'' + datum.value"}}, "y": {"value": 0}, "y2": {"value": "height"}, "color": {"condition": {"test": "datum.v == 0", "value": "black"}, "value": "#9e9e9e"}, "strokeWidth": {"condition": {"test": "datum.v == 0", "value": 2}, "value": 1}, "strokeDash": {"condition": {"test": "datum.v == 0", "value": [1, 0]}, "value": [4, 3]}}},
{"mark": {"type": "rule", "strokeWidth": 2}, "encoding": {"x": {"field": "lo", "type": "quantitative", "axis": {"values": [-2, -1, 0, 1, 2], "title": "Difference in FI (%) per SD increase", "labelExpr": "'' + datum.value"}}, "x2": {"field": "hi"}, "yOffset": {"field": "off", "type": "quantitative", "scale": {"domain": [-0.5, 0.5], "nice": false, "zero": false}}, "stroke": {"field": "e", "type": "nominal", "scale": {"domain": ["IVW-MR", "UK Biobank", "TwinGene", "Health 2000"], "range": ["#8f5ba2", "#e8000b", "#3b5b92", "#e8913c"]}, "legend": null}}},
{"mark": {"type": "point", "filled": true, "opacity": 1, "strokeWidth": 1}, "encoding": {"x": {"field": "b", "type": "quantitative", "scale": {"domain": [-2.2, 2.2], "nice": false, "zero": false}, "axis": {"values": [-2, -1, 0, 1, 2], "title": "Difference in FI (%) per SD increase", "labelExpr": "'' + datum.value"}}, "yOffset": {"field": "off", "type": "quantitative", "scale": {"domain": [-0.5, 0.5], "nice": false, "zero": false}}, "color": {"field": "e", "type": "nominal", "title": "Estimate", "scale": {"domain": ["UK Biobank", "TwinGene", "Health 2000", "IVW-MR"], "range": ["#e8000b", "#3b5b92", "#e8913c", "#8f5ba2"]}, "condition": {"test": "datum.s == 0", "value": "white"}}, "stroke": {"field": "e", "type": "nominal", "scale": {"domain": ["IVW-MR", "UK Biobank", "TwinGene", "Health 2000"], "range": ["#8f5ba2", "#e8000b", "#3b5b92", "#e8913c"]}, "legend": null}, "shape": {"field": "e", "type": "nominal", "title": "Estimate", "scale": {"domain": ["UK Biobank", "TwinGene", "Health 2000", "IVW-MR"], "range": ["circle", "circle", "circle", "triangle-up"]}}, "size": {"condition": {"test": "datum.e == 'IVW-MR'", "value": 80}, "value": 55}}}
]}
]
}
],
"config": {
"font": "Liberation Sans",
"view": {"stroke": null},
"title": {"font": "Liberation Sans", "fontSize": 14, "fontWeight": "bold", "anchor": "start", "frame": "group", "color": "#1a1a1a", "offset": 5, "dx": 8},
"axisY": {"ticks": false, "domain": false, "grid": false, "labelFontSize": 14, "labelColor": "#1a1a1a", "labelPadding": 6, "labelFont": "Liberation Sans", "labelLimit": 300},
"axisX": {"ticks": false, "domain": false, "grid": false, "labelFontSize": 14, "labelColor": "#333333", "labelPadding": 8, "titleFontSize": 17.8, "titleFontWeight": "normal", "titleColor": "black", "titlePadding": 4, "labelFont": "Liberation Sans", "titleFont": "Liberation Sans"},
"legend": {"orient": "none", "legendX": 272, "legendY": 857, "direction": "horizontal", "titleOrient": "left", "titleFontSize": 20, "titleFontWeight": "bold", "titleColor": "black", "titleFont": "Liberation Sans", "labelFont": "Liberation Sans", "labelFontSize": 18.5, "labelColor": "black", "symbolSize": 100, "symbolStrokeWidth": 0, "labelOffset": 14, "columnPadding": 15, "titlePadding": 16, "padding": 8, "strokeColor": "black", "strokeWidth": 1.5, "fillColor": "white"}
}
}
